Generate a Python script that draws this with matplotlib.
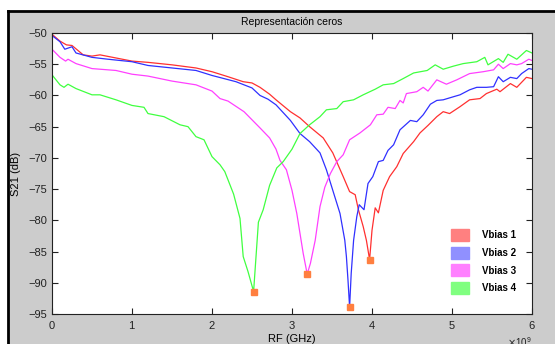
import numpy as np
import matplotlib.pyplot as plt
from matplotlib.patches import Patch, Rectangle
from matplotlib.lines import Line2D
from matplotlib.ticker import ScalarFormatter

plt.rcParams['font.family'] = ['Liberation Sans', 'DejaVu Sans']

# frequency (GHz) and S21 (dB)
f1 = [0.0, 0.1, 0.18, 0.25, 0.39, 0.5, 0.6, 0.8, 1.0, 1.2, 1.5, 1.8, 2.0, 2.2, 2.39, 2.5, 2.6,
      2.72, 2.8, 2.98, 3.1, 3.22, 3.39, 3.51, 3.64, 3.72, 3.79, 3.83, 3.89, 3.93, 3.97, 4.0, 4.04,
      4.08, 4.14, 4.22, 4.31, 4.39, 4.52, 4.6, 4.7, 4.81, 4.89, 4.97, 5.1, 5.22, 5.35, 5.43, 5.56,
      5.6, 5.73, 5.81, 5.93, 6.0]
s1 = [-50.2, -51.3, -51.9, -52.0, -53.5, -53.7, -53.5, -54.0, -54.5, -54.7, -55.1, -55.6, -56.2, -57.0, -57.8, -58.0, -58.7,
      -59.8, -60.7, -62.6, -63.6, -65.0, -66.8, -69.2, -73.0, -75.4, -75.9, -78.3, -81.0, -83.2, -86.3, -81.6, -78.0,
      -78.8, -75.2, -73.0, -71.4, -69.3, -67.4, -66.0, -64.8, -63.4, -62.6, -62.9, -61.8, -60.7, -60.5, -59.7, -59.0,
      -59.4, -58.1, -58.7, -57.1, -57.3]

f2 = [0.0, 0.1, 0.16, 0.25, 0.3, 0.5, 0.7, 1.0, 1.2, 1.5, 1.8, 2.0, 2.3, 2.5, 2.6, 2.7, 2.8, 2.98,
      3.1, 3.22, 3.35, 3.43, 3.51, 3.6, 3.66, 3.68, 3.7, 3.72, 3.74, 3.77, 3.81, 3.84, 3.9, 3.95,
      4.01, 4.08, 4.14, 4.2, 4.27, 4.35, 4.48, 4.56, 4.64, 4.73, 4.81, 4.89, 5.02, 5.1, 5.22, 5.31,
      5.43, 5.52, 5.58, 5.64, 5.73, 5.81, 5.87, 5.96, 6.0]
s2 = [-50.4, -51.4, -52.6, -52.2, -53.2, -53.9, -54.2, -54.6, -55.2, -55.6, -56.0, -56.8, -57.8, -58.8, -60.0, -60.6, -61.5, -64.0,
      -66.1, -67.4, -69.2, -71.9, -75.2, -78.9, -83.2, -85.8, -89.6, -93.9, -88.5, -83.2, -79.4, -77.5, -78.3, -74.1,
      -73.0, -70.6, -70.4, -68.8, -67.9, -65.5, -64.0, -64.2, -63.1, -61.4, -60.8, -60.7, -60.2, -59.9, -59.1, -58.7,
      -58.7, -58.6, -57.0, -57.8, -57.1, -57.3, -56.5, -55.7, -55.8]

f3 = [0.0, 0.1, 0.17, 0.2, 0.3, 0.5, 0.8, 1.0, 1.2, 1.5, 1.8, 2.0, 2.1, 2.2, 2.4, 2.5, 2.6, 2.72,
      2.8, 2.85, 2.93, 3.0, 3.06, 3.1, 3.14, 3.19, 3.23, 3.29, 3.35, 3.41, 3.48, 3.56, 3.64, 3.72,
      3.85, 3.98, 4.06, 4.14, 4.2, 4.29, 4.35, 4.39, 4.43, 4.56, 4.64, 4.7, 4.81, 4.93, 5.06, 5.22,
      5.39, 5.52, 5.58, 5.64, 5.73, 5.81, 5.87, 5.96, 6.0]
s3 = [-52.6, -53.9, -54.5, -54.2, -54.9, -55.7, -56.0, -56.6, -56.9, -57.7, -58.3, -59.3, -60.5, -60.9, -62.6, -63.9, -65.2, -66.8,
      -68.6, -70.4, -71.9, -75.2, -78.9, -82.1, -85.3, -88.6, -86.9, -83.2, -77.8, -74.7, -72.5, -70.6, -69.5, -67.1,
      -66.0, -64.7, -63.1, -63.0, -61.9, -62.1, -60.8, -61.2, -59.7, -59.4, -58.7, -59.3, -57.5, -58.2, -57.5, -56.5,
      -56.2, -55.9, -55.0, -55.7, -54.9, -55.1, -54.9, -54.2, -54.4]

f4 = [0.0, 0.1, 0.15, 0.2, 0.3, 0.5, 0.6, 0.8, 1.0, 1.15, 1.2, 1.4, 1.6, 1.7, 1.8, 1.9, 2.0, 2.1,
      2.16, 2.27, 2.35, 2.39, 2.45, 2.52, 2.58, 2.64, 2.72, 2.81, 2.89, 3.0, 3.1, 3.22, 3.35, 3.43,
      3.56, 3.64, 3.77, 3.89, 4.04, 4.14, 4.27, 4.39, 4.52, 4.69, 4.79, 4.89, 5.02, 5.14, 5.31, 5.41,
      5.45, 5.58, 5.64, 5.7, 5.81, 5.93, 6.0]
s4 = [-56.7, -58.3, -58.7, -58.2, -58.9, -59.9, -59.9, -60.7, -61.6, -61.9, -62.9, -63.4, -64.7, -65.0, -66.6, -67.1, -69.8, -71.1,
      -72.2, -75.8, -79.7, -85.8, -88.2, -91.4, -80.3, -78.3, -74.4, -71.6, -70.6, -68.6, -66.1, -64.7, -63.4, -62.3,
      -62.1, -61.0, -60.7, -59.9, -59.0, -58.3, -58.1, -57.3, -56.4, -56.0, -55.1, -55.8, -55.3, -54.9, -54.6, -53.9,
      -55.1, -54.1, -54.7, -53.4, -54.2, -52.8, -53.2]

# zeros (minima)
zero_f = [2.52, 3.19, 3.72, 3.97]
zero_s = [-91.4, -88.6, -93.9, -86.3]

labels = ['Vbias 1', 'Vbias 2', 'Vbias 3', 'Vbias 4']
line_colors = ['#ff3030', '#3030ff', '#ff40ff', '#40ff40']
patch_colors = ['#ff8080', '#9090ff', '#ff80ff', '#80ff80']

fig = plt.figure(figsize=(5.55, 3.44), dpi=100)
# gray window background with black edge on top and left
fig.patches.append(Rectangle((8 / 555, 0), 1, 333 / 344, transform=fig.transFigure,
                             facecolor='#cccccc', edgecolor='none', zorder=-10))
fig.lines.append(Line2D([8 / 555, 1], [333 / 344, 333 / 344], transform=fig.transFigure,
                        color='black', lw=2, zorder=-5))
fig.lines.append(Line2D([8 / 555, 8 / 555], [0, 333 / 344], transform=fig.transFigure,
                        color='black', lw=2, zorder=-5))

ax = fig.add_axes([52 / 555, 30 / 344, 480 / 555, 281 / 344])
for f, s, c in zip([f1, f2, f3, f4], [s1, s2, s3, s4], line_colors):
    ax.plot(np.array(f) * 1e9, s, color=c, lw=0.9)
ax.plot(np.array(zero_f) * 1e9, zero_s, 's', color='#ff7f40', ms=4, mec='#ff7f40')

ax.set_xlim(0, 6e9)
ax.set_ylim(-95, -50)
ax.set_yticks(np.arange(-95, -49, 5))
ax.set_xticks(np.arange(0, 6.1, 1) * 1e9)
fmt = ScalarFormatter(useMathText=True)
fmt.set_powerlimits((0, 0))
ax.xaxis.set_major_formatter(fmt)
ax.tick_params(direction='in', top=True, right=True, length=4, labelsize=8, colors='#222222')
for sp in ax.spines.values():
    sp.set_color('#222222')
    sp.set_linewidth(0.8)
ax.xaxis.get_offset_text().set_fontsize(7)

ax.set_title('Representación ceros', fontsize=7.5, pad=6)
ax.set_xlabel('RF (GHz)', fontsize=8, labelpad=2)
ax.set_ylabel('S21 (dB)', fontsize=8, labelpad=5)

handles = [Patch(facecolor=c, edgecolor=c) for c in patch_colors]
leg = ax.legend(handles, labels, loc='lower right', bbox_to_anchor=(0.985, 0.04),
                frameon=False, prop={'weight': 'bold', 'size': 7},
                handlelength=1.9, handleheight=1.5, labelspacing=0.6, handletextpad=1.3)

plt.savefig('out.png', dpi=100)
